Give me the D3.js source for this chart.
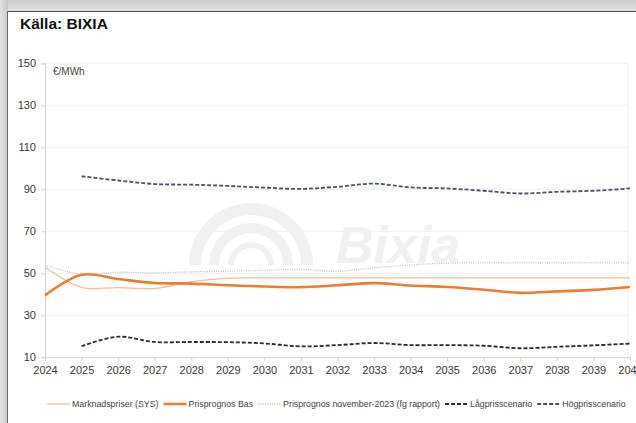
<!DOCTYPE html>
<html>
<head>
<meta charset="utf-8">
<script src="https://cdn.jsdelivr.net/npm/d3@7"></script>
<style>
  html, body { margin: 0; padding: 0; background: #ffffff; }
  svg { display: block; font-family: "Liberation Sans", Arial, sans-serif; }
</style>
</head>
<body>
<svg id="chart" width="636" height="423"></svg>
<script>
// Years on the x axis
const years = d3.range(2024, 2041);

// Price series, €/MWh (null = no value for that year)
const marknadspriser = [53, 43.3, 43.2, 42.8, 46, 47.6, 47.8, 47.8, 47.8, 47.8, 47.8, 47.8, 47.8, 47.8, 47.8, 47.8, 47.8];
const prisprognosBas = [39.5, 49.3, 47.3, 45.4, 45.1, 44.3, 43.7, 43.4, 44.3, 45.3, 44.2, 43.5, 42.2, 40.7, 41.4, 42.1, 43.5];
const prisprognosNov2023 = [54, 49.5, 50.5, 50.2, 50.7, 51, 51.4, 51.8, 51, 52.6, 54, 54.8, 55, 55, 55, 55, 55];
const lagpris = [null, 15.3, 19.8, 17.3, 17.3, 17.2, 16.6, 15.2, 15.8, 16.8, 15.8, 15.8, 15.5, 14.3, 15, 15.7, 16.5];
const hogpris = [null, 96.2, 94.2, 92.5, 92.2, 91.6, 90.8, 90.2, 91.2, 92.7, 90.9, 90.4, 89.3, 88, 88.8, 89.3, 90.4];

// Axis ticks
const yTicks = [10, 30, 50, 70, 90, 110, 130, 150];
const xTicks = years;

const svg = d3.select("#chart");

// Page frame: grey band on top and left
const defs = svg.append("defs");
const gTop = defs.append("linearGradient").attr("id", "gTop").attr("x1", 0).attr("y1", 0).attr("x2", 0).attr("y2", 1);
gTop.append("stop").attr("offset", "0%").attr("stop-color", "#cfcfcf");
gTop.append("stop").attr("offset", "100%").attr("stop-color", "#e2e2e2");
const gLeft = defs.append("linearGradient").attr("id", "gLeft").attr("x1", 0).attr("y1", 0).attr("x2", 1).attr("y2", 0);
gLeft.append("stop").attr("offset", "0%").attr("stop-color", "#e4e4e4");
gLeft.append("stop").attr("offset", "100%").attr("stop-color", "#c8c8c8");

svg.append("rect").attr("x", 0).attr("y", 0).attr("width", 636).attr("height", 12).attr("fill", "url(#gTop)");
svg.append("rect").attr("x", 0).attr("y", 0).attr("width", 8).attr("height", 423).attr("fill", "url(#gLeft)");
svg.append("line").attr("x1", 7.5).attr("x2", 636).attr("y1", 11.5).attr("y2", 11.5).attr("stroke", "#4a4a4a").attr("stroke-width", 1.2);
svg.append("line").attr("x1", 7.5).attr("x2", 7.5).attr("y1", 11.5).attr("y2", 423).attr("stroke", "#6a6a6a").attr("stroke-width", 1);

// Title
svg.append("text").attr("x", 20).attr("y", 29)
  .attr("font-size", 15.5).attr("font-weight", "bold").attr("fill", "#111")
  .text("Källa: BIXIA");

// Scales
const x = d3.scaleLinear().domain([2024, 2040]).range([45, 630]);
const y = d3.scaleLinear().domain([10, 150]).range([357.3, 63.3]);

// Gridlines
svg.append("g").selectAll("line").data(yTicks.filter(d => d !== 10)).join("line")
  .attr("x1", x(2024)).attr("x2", 628)
  .attr("y1", d => y(d)).attr("y2", d => y(d))
  .attr("stroke", "#efefef").attr("stroke-width", 1);
svg.append("line").attr("x1", 628).attr("x2", 628).attr("y1", y(150)).attr("y2", y(10))
  .attr("stroke", "#f0f0f0");

// Watermark logo
const wm = svg.append("g").attr("fill", "#f1f1f1");
const arc = d3.arc().startAngle(-Math.PI / 2).endAngle(Math.PI / 2);
[[50, 62], [32, 42], [17, 23]].forEach(([r0, r1]) => {
  wm.append("path").attr("transform", "translate(251,265)")
    .attr("d", arc({ innerRadius: r0, outerRadius: r1 }));
});
wm.append("text").attr("x", 336).attr("y", 263)
  .attr("font-size", 52).attr("font-weight", "bold").attr("font-style", "italic")
  .text("Bixia");

// Y axis
const yAxis = svg.append("g").attr("transform", `translate(${x(2024)},0)`)
  .call(d3.axisLeft(y).tickValues(yTicks).tickSize(4).tickPadding(5).tickFormat(d3.format("d")));
yAxis.select(".domain").attr("stroke", "#d4d4d4");
yAxis.selectAll(".tick line").attr("stroke", "#d4d4d4");
yAxis.selectAll("text").attr("font-size", 11).attr("fill", "#3a3a3a").attr("font-family", "Liberation Sans, Arial, sans-serif");

// X axis
const xAxis = svg.append("g").attr("transform", `translate(0,${y(10)})`)
  .call(d3.axisBottom(x).tickValues(xTicks).tickSize(4).tickPadding(5).tickFormat(d3.format("d")));
xAxis.select(".domain").attr("stroke", "#d4d4d4");
xAxis.selectAll(".tick line").attr("stroke", "#d4d4d4");
xAxis.selectAll("text").attr("font-size", 11).attr("fill", "#3a3a3a").attr("font-family", "Liberation Sans, Arial, sans-serif");

// Unit label
svg.append("text").attr("x", 53).attr("y", 75).attr("font-size", 10).attr("fill", "#444").text("€/MWh");

// Series definitions
const series = [
  { name: "Marknadspriser (SYS)", values: marknadspriser, color: "#f6be95", width: 1.3, dash: null },
  { name: "Prisprognos Bas", values: prisprognosBas, color: "#ed7d31", width: 2.6, dash: null },
  { name: "Prisprognos november-2023 (fg rapport)", values: prisprognosNov2023, color: "#c4c4c4", width: 1.3, dash: "1,1.3" },
  { name: "Lågprisscenario", values: lagpris, color: "#2b2b2b", width: 1.8, dash: "4,2" },
  { name: "Högprisscenario", values: hogpris, color: "#44546a", width: 1.8, dash: "4,2" }
];

const line = d3.line()
  .defined(d => d.v != null)
  .x(d => x(d.year)).y(d => y(d.v))
  .curve(d3.curveCatmullRom.alpha(0.5));

// Draw order: light lines first, bold forecast on top
const drawOrder = [2, 0, 3, 4, 1];
drawOrder.forEach(i => {
  const s = series[i];
  svg.append("path")
    .datum(years.map((yr, k) => ({ year: yr, v: s.values[k] })))
    .attr("fill", "none")
    .attr("stroke", s.color)
    .attr("stroke-width", s.width)
    .attr("stroke-dasharray", s.dash)
    .attr("d", line);
});

// Legend
const legend = svg.append("g").attr("font-size", 8.8).attr("fill", "#444");
let lx = 47;
const ly = 404;
series.forEach(s => {
  legend.append("line").attr("x1", lx).attr("x2", lx + 23).attr("y1", ly).attr("y2", ly)
    .attr("stroke", s.color).attr("stroke-width", s.width).attr("stroke-dasharray", s.dash);
  const t = legend.append("text").attr("x", lx + 25).attr("y", ly + 3).text(s.name);
  lx += 25 + t.node().getComputedTextLength() + 5;
});
</script>
</body>
</html>
